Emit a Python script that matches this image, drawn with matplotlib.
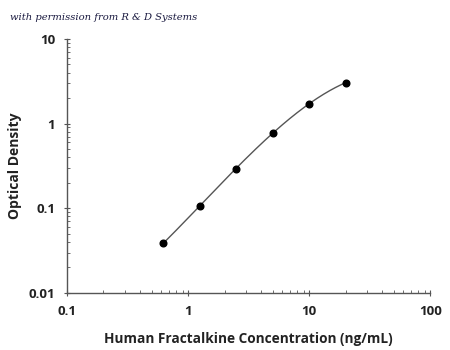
import numpy as np
import matplotlib
matplotlib.use("Agg")
import matplotlib.pyplot as plt
from matplotlib.ticker import LogLocator, FixedLocator, FixedFormatter, NullFormatter

# Data
conc = [0.625, 1.25, 2.5, 5, 10, 20]
od = [0.0387, 0.107, 0.294, 0.783, 1.69, 3.05]
x_ticks = [0.1, 1, 10, 100]
x_labels = ["0.1", "1", "10", "100"]
y_ticks = [0.01, 0.1, 1, 10]
y_labels = ["0.01", "0.1", "1", "10"]

fig = plt.figure(figsize=(4.5, 3.5), dpi=100)
ax = fig.add_axes([0.149, 0.163, 0.807, 0.726])

# fitted curve in log-log space
lx, ly = np.log10(conc), np.log10(od)
coef = np.polyfit(lx, ly, 3)
xs = np.linspace(lx[0], lx[-1], 200)
ax.plot(10**xs, 10**np.polyval(coef, xs), color="#555555", lw=1.0, zorder=2)
ax.plot(conc, od, "o", color="black", ms=4.8, zorder=3)

ax.set_xscale("log")
ax.set_yscale("log")
ax.set_xlim(0.1, 100)
ax.set_ylim(0.01, 10)

for s in ["top", "right"]:
    ax.spines[s].set_visible(False)
for s in ["left", "bottom"]:
    ax.spines[s].set_color("#555555")
    ax.spines[s].set_linewidth(1.0)

ax.xaxis.set_major_locator(FixedLocator(x_ticks))
ax.xaxis.set_major_formatter(FixedFormatter(x_labels))
ax.yaxis.set_major_locator(FixedLocator(y_ticks))
ax.yaxis.set_major_formatter(FixedFormatter(y_labels))
ax.xaxis.set_minor_locator(LogLocator(base=10, subs=np.arange(2, 10)))
ax.yaxis.set_minor_locator(LogLocator(base=10, subs=np.arange(2, 10)))
ax.xaxis.set_minor_formatter(NullFormatter())
ax.yaxis.set_minor_formatter(NullFormatter())
ax.tick_params(which="major", direction="inout", length=5, width=0.8, color="#555555", pad=6)
ax.tick_params(which="minor", direction="in", length=2.5, width=0.6, color="#555555")
for lab in ax.get_xticklabels() + ax.get_yticklabels():
    lab.set_fontfamily("Open Sans")
    lab.set_fontweight("bold")
    lab.set_fontsize(9.5)
    lab.set_color("#222222")

ax.set_xlabel("Human Fractalkine Concentration (ng/mL)", family="Open Sans",
              weight="bold", size=9.8, color="#222222", labelpad=10)
ax.set_ylabel("Optical Density", family="Open Sans", weight="bold", size=10,
              color="#222222", labelpad=5)

fig.text(0.022, 0.95, "with permission from R & D Systems", family="DejaVu Serif",
         style="italic", size=7.2, color="#1a1a40", va="center")

fig.savefig("out.png", dpi=100)
